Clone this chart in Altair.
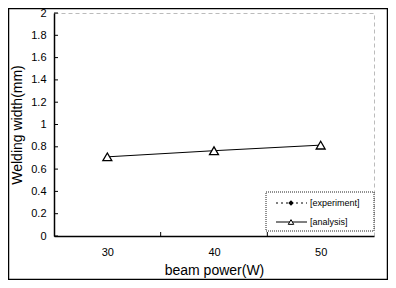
import altair as alt
import pandas as pd

# data
power = [30, 40, 50]
analysis = [0.71, 0.765, 0.815]
y_tick_values = [0, 0.2, 0.4, 0.6, 0.8, 1.0, 1.2, 1.4, 1.6, 1.8, 2.0]
x_label_values = [30, 40, 50]
x_inner_ticks = [35, 45]
legend_labels = ["[experiment]", "[analysis]"]

W, H = 320, 223
FONT = "Liberation Sans"

df = pd.DataFrame({"power": power, "width": analysis})

xs = alt.Scale(domain=[25, 55], nice=False, zero=False)
ys = alt.Scale(domain=[0, 2], nice=False)
x_axis = alt.Axis(values=x_label_values, title="beam power(W)", ticks=False,
                  labelPadding=10, titlePadding=6, format="d")
y_axis = alt.Axis(values=y_tick_values, title="Welding width(mm)", ticks=False,
                  format=".1~f", labelPadding=8, titlePadding=6,
                  labelOverlap=False, labelFlush=False)

base = alt.Chart(df).encode(
    x=alt.X("power:Q", scale=xs, axis=x_axis),
    y=alt.Y("width:Q", scale=ys, axis=y_axis),
)

line = base.mark_line(color="black", strokeWidth=1)
pts = base.mark_point(shape="triangle-up", size=80, filled=True, fill="white",
                      stroke="black", strokeWidth=1.3, opacity=1)

yt = alt.Chart(pd.DataFrame({"v": y_tick_values})).mark_rule(color="black", strokeWidth=1).encode(
    y=alt.Y("v:Q", scale=ys, axis=y_axis), x=alt.value(0), x2=alt.value(4))
xt = alt.Chart(pd.DataFrame({"v": x_inner_ticks})).mark_rule(color="black", strokeWidth=1).encode(
    x=alt.X("v:Q", scale=xs, axis=x_axis), y=alt.value(H), y2=alt.value(H - 4))

box = alt.Chart(pd.DataFrame({"a": [0]})).mark_rect(
    fill="white", stroke="#222222", strokeWidth=1, strokeDash=[1, 1]).encode(
    x=alt.value(212), x2=alt.value(320), y=alt.value(179), y2=alt.value(218))

leg_line1 = alt.Chart(pd.DataFrame({"a": [0]})).mark_rule(
    color="black", strokeWidth=1, strokeDash=[2, 3]).encode(
    x=alt.value(222), x2=alt.value(253), y=alt.value(190))
leg_pt1 = alt.Chart(pd.DataFrame({"a": [0]})).mark_point(
    shape="diamond", size=30, filled=True, color="black", opacity=1).encode(
    x=alt.value(237), y=alt.value(190))
leg_line2 = alt.Chart(pd.DataFrame({"a": [0]})).mark_rule(
    color="black", strokeWidth=1).encode(
    x=alt.value(222), x2=alt.value(253), y=alt.value(209))
leg_pt2 = alt.Chart(pd.DataFrame({"a": [0]})).mark_point(
    shape="triangle-up", size=30, filled=True, fill="white", stroke="black",
    strokeWidth=1, opacity=1).encode(
    x=alt.value(237), y=alt.value(209))
leg_t1 = alt.Chart(pd.DataFrame({"label": [legend_labels[0]]})).mark_text(
    align="left", baseline="middle", fontSize=9, font=FONT, color="black").encode(
    x=alt.value(256), y=alt.value(190), text="label:N")
leg_t2 = alt.Chart(pd.DataFrame({"label": [legend_labels[1]]})).mark_text(
    align="left", baseline="middle", fontSize=9, font=FONT, color="black").encode(
    x=alt.value(256), y=alt.value(209), text="label:N")

frame = alt.Chart(pd.DataFrame({"a": [0]})).mark_rect(
    fill=None, filled=False, stroke="black", strokeWidth=1.5).encode(
    x=alt.value(-45.5), x2=alt.value(W + 13.5), y=alt.value(-4.5), y2=alt.value(H + 43.5))

chart = alt.layer(frame, line, pts, yt, xt, box, leg_line1, leg_pt1, leg_line2, leg_pt2,
                  leg_t1, leg_t2).properties(
    width=W, height=H,
    autosize=alt.AutoSizeParams(type="none"),
    padding={"left": 46, "top": 5, "right": 14, "bottom": 44},
    background="white",
).configure_view(
    stroke="#bbbbbb", strokeDash=[4, 3], strokeWidth=1
).configure_axis(
    domainColor="black", domainWidth=1.5, grid=False, labelOverlap=False,
    labelFont=FONT, labelFontSize=11, labelColor="black",
    titleFont=FONT, titleFontSize=14, titleFontWeight="normal", titleColor="black",
)

chart.save("out.html", embed_options={"renderer": "svg", "actions": False})
